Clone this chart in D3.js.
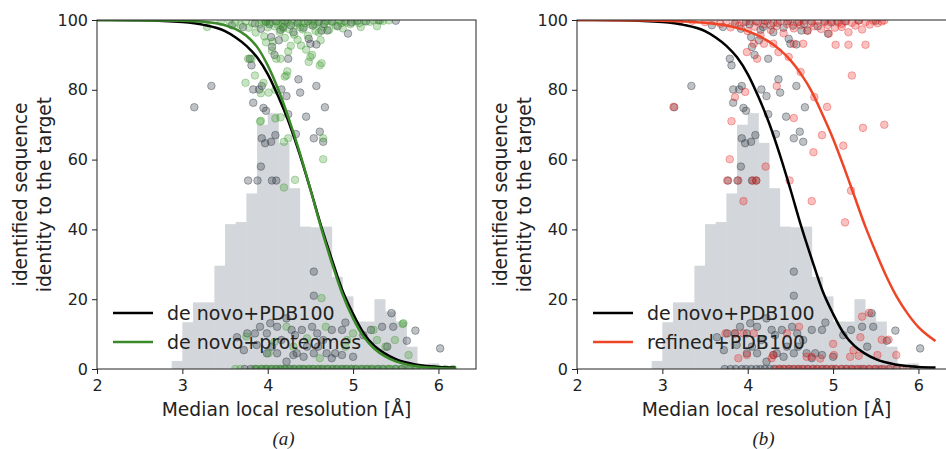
<!DOCTYPE html>
<html>
<head>
<meta charset="utf-8">
<script src="https://cdn.jsdelivr.net/npm/d3@7"></script>
<style>
  body { margin: 0; background: #fff; }
</style>
</head>
<body>
<div id="chart-area"></div>
<script>
// histogram of median local resolution (bin start, bar height on the 0-100 axis)
const binWidth = 0.125;
const histStarts = [2.875, 3.0, 3.125, 3.25, 3.375, 3.5, 3.625, 3.75, 3.875, 4.0, 4.125, 4.25,
  4.375, 4.5, 4.625, 4.75, 4.875, 5.0, 5.125, 5.25, 5.375, 5.5, 5.625, 5.75, 5.875];
const histHeights = [2.3, 13.4, 19.1, 19.1, 29.6, 41.5, 42.1, 50.3, 70.0, 73.3, 64.8, 51.8,
  40.8, 40.6, 40.8, 26.4, 20.8, 13.6, 13.6, 20.0, 16.5, 13.6, 6.4, 0, 1.6];

// fitted curves
const curveDeNovoPDB = [[2.0,100],[2.5,99.9],[3.0,99.4],[3.25,98.6],[3.5,96.8],[3.625,95.0],[3.75,92.6],
  [3.875,89.3],[4.0,84.5],[4.125,78],[4.25,70.5],[4.375,61.5],[4.5,51.5],[4.625,41],[4.75,31.5],
  [4.875,22.5],[5.0,15.8],[5.125,10.2],[5.25,6.6],[5.375,4.4],[5.5,2.8],[5.75,1.2],[6.0,0.6],[6.2,0.4]];
const curveDeNovoProteomes = [[2.0,100],[3.0,99.8],[3.25,99.5],[3.5,98.5],[3.625,97.4],[3.75,95.5],
  [3.875,92.3],[4.0,87],[4.125,80],[4.25,71.5],[4.375,62],[4.5,51.5],[4.625,40.5],[4.75,30.5],
  [4.875,21.5],[5.0,14.5],[5.125,9.2],[5.25,5.8],[5.375,3.6],[5.5,2.2],[5.75,0.8],[6.0,0.3],[6.2,0.15]];
const curveRefinedPDB = [[2.0,100],[2.5,99.95],[3.0,99.8],[3.25,99.6],[3.5,99.2],[3.75,98.4],[4.0,96.8],
  [4.125,95.5],[4.25,93.8],[4.375,91.5],[4.5,88.5],[4.625,84.5],[4.75,79.5],[4.875,73],[5.0,66],
  [5.125,58],[5.25,49.5],[5.375,41],[5.5,33.5],[5.625,26.5],[5.75,20.5],[5.875,15.8],[6.0,12],
  [6.1,9.8],[6.2,8.0]];

// individual targets: de novo + PDB100 (grey, both panels)
const grayPoints = [
  [3.14,75],[3.34,81.1],[3.58,98.5],[3.71,98],[3.79,88.9],[3.81,87],[3.83,80.1],[3.90,80.1],[3.93,81.1],
  [3.83,76.3],[3.95,74.8],[3.98,74],[4.16,80.1],[4.22,78.2],[4.38,79.2],[4.36,83],[4.57,81.1],[4.67,75],
  [4.94,96.1],[4.05,92.3],[4.08,90],[4.24,88.9],[4.04,95.1],[4.13,94.2],[4.50,93.2],[4.48,94.6],[4.57,93],
  [4.70,97],[4.63,97],[4.18,98],[4.24,73],[4.45,72.3],[4.61,68],[4.54,66.1],[4.65,65.1],[4.09,67],
  [4.04,65.1],[3.97,64.7],[3.93,66.1],[4.33,67.3],[3.92,58],[3.77,54],[3.88,54],[4.05,54],[4.10,54],
  [4.54,27.9],[4.54,21],[5.45,16],[5.73,11],[6.02,5.9],[5.34,12.1],[5.47,12.1],[5.63,8.1],[5.21,11.2],
  [5.40,6.4],[5.12,9.7],[4.91,13.3],[4.87,11.2],[4.75,11.2],[4.79,4.5],[4.87,4],[5.0,3.5],
  [3.64,9.1],[3.76,10.2],[3.85,10.2],[3.91,12.1],[3.99,4.5],[4.03,13.1],[4.11,12.1],[4.22,14.5],
  [4.28,11.2],[4.30,4.0],[4.34,4.5],[4.40,11.2],[4.46,6.4],[4.52,12.1],[4.54,4.5],[4.58,10.2],[4.65,8.3],
  [4.69,4.5],[4.75,3.1],[4.22,2.1],[4.42,3.5],[4.11,4.5],[4.05,6.4],[3.87,6.9],[3.72,5.4],[4.32,9.7],
  [4.16,8.3],[3.99,10.2],[4.59,6.4],
  [3.85,99],[3.92,97.5],[3.98,99.5],[4.02,98.8],[4.1,99.6],[4.15,97.2],[4.2,99.8],[4.27,98.5],[4.3,96.5],
  [4.35,99.2],[4.42,97.8],[4.47,99.7],[4.53,98.4],[4.6,99.5],[4.66,98.9],[4.75,99.6],[4.82,98.2],
  [4.9,99.7],[4.98,99.3],[5.05,99.8],[5.15,99.6],[5.3,99.9],[5.5,99.8]];
const grayZeroX = [3.73,3.8,3.86,3.93,3.98,4.04,4.1,4.15,4.2,4.26,4.31,4.37,4.42,4.48,4.53,4.59,4.64,
  4.7,4.76,4.81,4.87,4.92,4.98,5.03,5.1,5.16,5.22,5.29,5.35,5.42,5.5,5.57,5.65,5.74,5.82,5.95];

// de novo + proteomes (green, panel a)
const greenPoints = [
  [3.29,98],[3.74,82],[3.85,84.1],[3.95,82],[4.01,79.2],[4.22,84.1],[4.23,85.3],[4.61,87],[4.48,88],
  [4.5,89.4],[3.77,88.9],[3.81,88.9],[4.24,91],[4.15,88.9],[4.1,88.9],[5.09,98],[5.24,99.9],[5.32,99.9],
  [5.42,99.9],[4.63,87.6],[4.52,90],[4.2,83.8],[3.92,79],[4.09,80],[3.92,71.1],[4.19,65.1],[4.09,71.8],
  [4.15,72.1],[4.32,54.2],[4.19,52],[4.65,66.1],[4.65,60.1],[4.24,66.1],[3.91,70.9],
  [4.63,20.3],[5.59,13.1],[5.49,8.3],[5.24,11.2],[5.28,8.3],[5.38,6.4],[4.93,8.3],[5.0,10.2],[4.61,3.1],
  [4.3,6.4],[4.08,7.8],[4.01,4.5],[3.75,9.3],[4.22,12.1],[4.46,8.8],[4.68,12.1],[5.65,4.0],[4.91,6.4],
  [5.58,12.9],
  [3.45,99.5],[3.55,99.8],[3.62,99.2],[3.68,98.6],[3.74,99.6],[3.78,97.8],[3.82,99.1],[3.86,96.4],
  [3.9,98.7],[3.93,99.8],[3.96,95.3],[4.0,97.9],[4.03,99.4],[4.06,93.8],[4.08,98.2],[4.11,99.7],
  [4.14,96.6],[4.17,98.9],[4.2,94.9],[4.22,99.3],[4.25,97.4],[4.28,99.8],[4.31,95.8],[4.33,98.5],
  [4.36,99.6],[4.39,92.7],[4.41,97.3],[4.44,99.1],[4.47,95.5],[4.5,98.7],[4.53,99.8],[4.56,96.9],
  [4.59,99.2],[4.62,94.2],[4.65,98.1],[4.68,99.6],[4.72,97.2],[4.76,99.4],[4.8,98.4],[4.84,99.8],
  [4.88,97.6],[4.92,99.3],[4.97,98.8],[5.02,99.7],[5.07,99.1],[5.13,99.8],[5.2,99.5],[5.28,98.2],
  [5.35,99.7],[4.05,91.2],[4.27,92.6],[4.45,91.5],[3.98,93.6],[4.35,94.3],
  [3.97,99.6],[4.12,98.6],[4.24,99.7],[4.38,97.9],[4.55,98.9],[4.7,99.8],[4.86,99.1],[4.0,99.9],
  [4.18,97.6],[4.42,99.5],[4.6,96.4]];
const greenZeroX = [3.62,3.68,3.84,3.88,3.92,3.97,4.0,4.05,4.09,4.14,4.18,4.22,4.27,4.31,4.36,4.4,
  4.44,4.49,4.53,4.58,4.62,4.67,4.71,4.76,4.8,4.85,4.89,4.94,4.98,5.03,5.07,5.12,5.17,5.21,5.26,5.3,
  5.35,5.4,5.45,5.5,5.56,5.61,5.67,5.73,5.79,5.86,5.93,6.0,6.08,6.17];

// refined + PDB100 (red, panel b)
const redPoints = [
  [3.13,75.1],[3.85,77.9],[3.97,79.4],[3.81,71],[4.34,81.1],[4.54,71.9],[4.78,77.9],[4.93,75.1],
  [5.22,84.1],[5.35,69.1],[5.6,70],[5.03,92.9],[5.18,92.9],[5.38,92.9],[4.62,85.1],[4.48,89.4],
  [4.36,90.8],[4.11,88.9],[3.99,90.8],[4.07,93.2],[4.19,93.2],[4.30,93.2],[4.54,93.2],[4.65,93.2],
  [4.95,96.1],[5.1,98],
  [3.79,60.1],[3.76,54],[3.89,54],[4.06,54],[4.10,54],[3.95,48.1],[4.21,58],[4.49,54],[4.75,48.1],
  [4.87,67],[4.77,62.1],[5.12,64],[5.21,51.1],[5.14,42],
  [3.74,10.2],[3.85,10.2],[3.95,10.2],[4.07,10.2],[3.89,3.1],[3.99,4],[4.30,4],[4.28,3.1],[4.46,10.2],
  [4.6,12.1],[4.69,3.5],[4.75,3.5],[4.85,3],[5.01,4],[5.0,7.2],[5.2,3.5],[5.3,3.8],[5.34,15],[5.42,16.1],
  [5.32,9.1],[5.52,4],[5.57,8.4],[5.65,8.4],[5.74,4],[5.24,5.4],
  [3.2,99.6],[3.35,99.8],[3.5,99.4],[3.6,99.7],[3.68,98.9],[3.75,99.5],[3.8,97.9],[3.86,99.8],[3.9,98.4],
  [3.95,99.3],[4.0,96.8],[4.03,99.7],[4.08,98.1],[4.12,99.5],[4.15,95.6],[4.19,98.8],[4.23,99.8],
  [4.27,97.1],[4.3,99.2],[4.34,98.3],[4.38,99.7],[4.42,96.2],[4.46,98.9],[4.5,99.6],[4.54,97.6],
  [4.58,99.3],[4.62,98.5],[4.66,99.8],[4.7,96.9],[4.74,99.1],[4.78,98.2],[4.82,99.7],[4.86,97.4],
  [4.9,99.4],[4.94,98.6],[4.98,99.8],[5.02,97.8],[5.06,99.3],[5.1,98.9],[5.14,99.7],[5.18,96.5],
  [5.22,99.2],[5.26,98.4],[5.3,99.8],[5.34,97.3],[5.38,99.5],[5.43,98.7],[5.47,99.8],[5.52,99.1],
  [5.57,99.6],[5.6,99.9]];
const redZeroX = [4.33,4.38,4.44,4.49,4.55,4.6,4.66,4.71,4.77,4.82,4.88,4.93,4.99,5.04,5.1,5.15,5.21,
  5.26,5.32,5.37,5.43,5.48,5.54,5.6,5.67,5.75,5.86];

const xTicks = [2, 3, 4, 5, 6];
const yTicks = [0, 20, 40, 60, 80, 100];

const svg = d3.select('#chart-area')
  .append('svg')
  .attr('width', 946)
  .attr('height', 449)
  .style('font-family', 'DejaVu Sans, sans-serif');

const plotW = 379, plotH = 349, plotTop = 20;
const ink = '#222';

function drawPanel(left, id, colorPts, colorZeroX, color, dotColor, curve, label, caption) {
  const x = d3.scaleLinear().domain([2, 6.44]).range([0, plotW]);
  const y = d3.scaleLinear().domain([0, 100]).range([plotH, 0]);
  const g = svg.append('g').attr('transform', `translate(${left},${plotTop})`);

  g.append('clipPath').attr('id', id)
    .append('rect').attr('width', plotW).attr('height', plotH);
  const plot = g.append('g').attr('clip-path', `url(#${id})`);

  // histogram
  plot.selectAll('rect.bar').data(histStarts)
    .enter().append('rect')
    .attr('class', 'bar')
    .attr('x', d => x(d))
    .attr('width', d => x(d + binWidth) - x(d) + 0.4)
    .attr('y', (d, i) => y(histHeights[i]))
    .attr('height', (d, i) => y(0) - y(histHeights[i]))
    .attr('fill', '#d3d6da');

  const gray = grayPoints.concat(grayZeroX.map(v => [v, 0]));
  plot.selectAll('circle.gray').data(gray)
    .enter().append('circle')
    .attr('class', 'gray')
    .attr('cx', d => x(d[0]))
    .attr('cy', d => y(d[1]))
    .attr('r', 3.8)
    .attr('fill', '#2a3440').attr('fill-opacity', 0.3)
    .attr('stroke', '#2a3440').attr('stroke-opacity', 0.4);

  const pts = colorPts.concat(colorZeroX.map(v => [v, 0]));
  plot.selectAll('circle.col').data(pts)
    .enter().append('circle')
    .attr('class', 'col')
    .attr('cx', d => x(d[0]))
    .attr('cy', d => y(d[1]))
    .attr('r', 3.8)
    .attr('fill', dotColor).attr('fill-opacity', 0.28)
    .attr('stroke', dotColor).attr('stroke-opacity', 0.35);

  const line = d3.line().x(d => x(d[0])).y(d => y(d[1])).curve(d3.curveMonotoneX);
  plot.append('path').datum(curveDeNovoPDB)
    .attr('d', line).attr('fill', 'none').attr('stroke', '#000').attr('stroke-width', 2.5);
  plot.append('path').datum(curve)
    .attr('d', line).attr('fill', 'none').attr('stroke', color).attr('stroke-width', 2.5);

  // frame
  g.append('rect').attr('width', plotW).attr('height', plotH)
    .attr('fill', 'none').attr('stroke', ink).attr('stroke-width', 1);

  const xAxis = g.append('g').attr('transform', `translate(0,${plotH})`)
    .call(d3.axisBottom(x).tickValues(xTicks).tickSize(5).tickPadding(6).tickFormat(d3.format('d')));
  const yAxis = g.append('g')
    .call(d3.axisLeft(y).tickValues(yTicks).tickSize(5).tickPadding(4));
  [xAxis, yAxis].forEach(a => {
    a.select('.domain').remove();
    a.selectAll('text').attr('font-size', 16).attr('font-family', 'DejaVu Sans').attr('fill', ink);
    a.selectAll('line').attr('stroke', ink);
  });

  g.append('text')
    .attr('x', plotW / 2).attr('y', 396)
    .attr('text-anchor', 'middle').attr('font-size', 18.7).attr('fill', ink)
    .text('Median local resolution [Å]');

  const yl = g.append('text')
    .attr('transform', `translate(-70,${plotH / 2}) rotate(-90)`)
    .attr('text-anchor', 'middle').attr('font-size', 18.7).attr('fill', ink);
  yl.append('tspan').attr('x', 0).attr('y', 0).text('identified sequence');
  yl.append('tspan').attr('x', 0).attr('y', 24).text('identity to the target');

  // legend
  const legend = [['de novo+PDB100', '#000'], [label, color]];
  legend.forEach((l, i) => {
    const ly = 293 + i * 29;
    g.append('line').attr('x1', 16).attr('x2', 56).attr('y1', ly).attr('y2', ly)
      .attr('stroke', l[1]).attr('stroke-width', 2.5);
    g.append('text').attr('x', 70).attr('y', ly + 6.5).attr('font-size', 19).attr('fill', ink).text(l[0]);
  });

  g.append('text')
    .attr('x', plotW / 2 - 3).attr('y', 425)
    .attr('text-anchor', 'middle')
    .style('font-family', '"Liberation Serif", "DejaVu Serif", serif')
    .style('font-style', 'italic').attr('font-size', 19).attr('fill', ink)
    .text(caption);
}

drawPanel(97, 'clipA', greenPoints, greenZeroX, '#3a8a2a', '#3a9a2a', curveDeNovoProteomes, 'de novo+proteomes', '(a)');
drawPanel(577, 'clipB', redPoints, redZeroX, '#ee4526', '#e8201c', curveRefinedPDB, 'refined+PDB100', '(b)');
</script>
</body>
</html>
